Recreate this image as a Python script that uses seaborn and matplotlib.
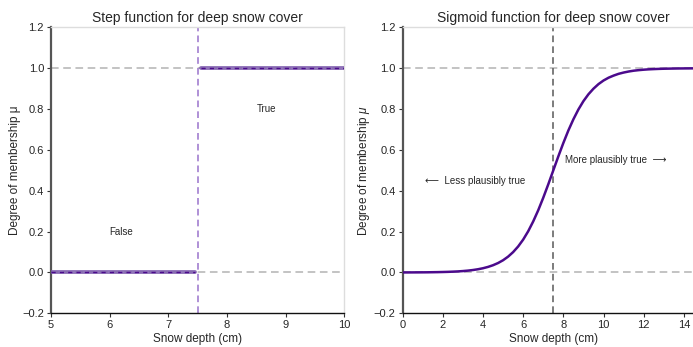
import numpy as np
import pandas as pd
import seaborn as sns
import matplotlib
matplotlib.use("Agg")
import matplotlib.pyplot as plt

# ---- data ----
step_x_false = [5.0, 7.45]
step_y_false = [0.0, 0.0]
step_x_true = [7.55, 10.0]
step_y_true = [1.0, 1.0]
threshold = 7.5

sig_x = [0.0, 0.25, 0.5, 0.75, 1.0, 1.25, 1.5, 1.75, 2.0, 2.25, 2.5, 2.75, 3.0, 3.25,
         3.5, 3.75, 4.0, 4.25, 4.5, 4.75, 5.0, 5.25, 5.5, 5.75, 6.0, 6.25, 6.5, 6.75,
         7.0, 7.25, 7.5, 7.75, 8.0, 8.25, 8.5, 8.75, 9.0, 9.25, 9.5, 9.75, 10.0,
         10.25, 10.5, 10.75, 11.0, 11.25, 11.5, 11.75, 12.0, 12.25, 12.5, 12.75,
         13.0, 13.25, 13.5, 13.75, 14.0, 14.25, 14.5, 14.75, 15.0]
sig_y = [0.0003, 0.0003, 0.0005, 0.0006, 0.0008, 0.0010, 0.0014, 0.0018, 0.0024,
         0.0031, 0.0041, 0.0053, 0.0070, 0.0092, 0.0121, 0.0159, 0.0208, 0.0273,
         0.0356, 0.0463, 0.0600, 0.0776, 0.0998, 0.1273, 0.1610, 0.2018, 0.2500,
         0.3047, 0.3660, 0.4317, 0.5000, 0.5683, 0.6340, 0.6953, 0.7500, 0.7982,
         0.8390, 0.8727, 0.9000, 0.9224, 0.9400, 0.9537, 0.9640, 0.9727, 0.9790,
         0.9841, 0.9880, 0.9908, 0.9930, 0.9947, 0.9959, 0.9969, 0.9977, 0.9982,
         0.9986, 0.9990, 0.9992, 0.9994, 0.9996, 0.9997, 0.9997]

yticks = [-0.2, 0.0, 0.2, 0.4, 0.6, 0.8, 1.0, 1.2]
left_xticks = [5, 6, 7, 8, 9, 10]
right_xticks = [0, 2, 4, 6, 8, 10, 12, 14]

sns.set_theme(style="white")
plt.rcParams['font.family'] = ['Liberation Sans', 'DejaVu Sans']
plt.rcParams['axes.unicode_minus'] = True
plt.rcParams['mathtext.fontset'] = 'custom'
plt.rcParams['mathtext.it'] = 'Liberation Sans:italic'
plt.rcParams['mathtext.rm'] = 'Liberation Sans'

fig = plt.figure(figsize=(6.93, 3.47), dpi=100)
ax1 = fig.add_axes([0.0736, 0.097, 0.4232, 0.824])
ax2 = fig.add_axes([0.581, 0.097, 0.4348, 0.824])

INDIGO = "#4b0a8c"
LIGHTP = "#7d5cad"

def style(ax):
    for s in ["top", "right"]:
        ax.spines[s].set_color("#dddddd")
        ax.spines[s].set_linewidth(1.0)
    ax.spines["left"].set_color("#555555")
    ax.spines["left"].set_linewidth(1.6)
    ax.spines["bottom"].set_color("#111111")
    ax.spines["bottom"].set_linewidth(1.0)
    ax.tick_params(axis="both", direction="out", length=3, width=0.8,
                   labelsize=8, color="#333333", pad=2, bottom=True, left=True)
    ax.set_ylim(-0.2, 1.2)
    ax.set_yticks(yticks)
    ax.set_yticklabels([f"{v:.1f}".replace("-", "\u2212") for v in yticks])
    for yv in [0.0, 1.0]:
        ax.axhline(yv, color="#b3b3b3", ls=(0, (5, 3)), lw=1.1, zorder=1)

# ---- left: step ----
style(ax1)
df_f = pd.DataFrame({"x": step_x_false, "y": step_y_false})
df_t = pd.DataFrame({"x": step_x_true, "y": step_y_true})
for d in (df_f, df_t):
    sns.lineplot(data=d, x="x", y="y", ax=ax1, color=LIGHTP, lw=2.8, alpha=0.85, zorder=3)
    sns.lineplot(data=d, x="x", y="y", ax=ax1, color=INDIGO, lw=1.0, ls=(0, (3, 3)), zorder=4)
ax1.axvline(threshold, color="#a27ed0", ls=(0, (4, 2.5)), lw=1.2, zorder=2)
ax1.set_xlim(5, 10)
ax1.set_xticks(left_xticks)
ax1.set_xticklabels([str(v) for v in left_xticks])
ax1.text(6.0, 0.2, "False", fontsize=7, ha="left", va="center")
ax1.text(8.5, 0.8, "True", fontsize=7, ha="left", va="center")
ax1.set_title("Step function for deep snow cover", fontsize=10, pad=4)
ax1.set_xlabel("Snow depth (cm)", fontsize=8.5, labelpad=2)
ax1.set_ylabel("Degree of membership \u03bc", fontsize=8.5, labelpad=1)

# ---- right: sigmoid ----
style(ax2)
df_s = pd.DataFrame({"x": sig_x, "y": sig_y})
sns.lineplot(data=df_s, x="x", y="y", ax=ax2, color=INDIGO, lw=1.8, zorder=3)
ax2.axvline(threshold, color="#666666", ls=(0, (4, 2.5)), lw=1.2, zorder=2)
ax2.set_xlim(0, 15)
ax2.set_xticks(right_xticks)
ax2.set_xticklabels([str(v) for v in right_xticks])
ax2.text(1.1, 0.45, "\u27f5  Less plausibly true", fontsize=7, ha="left", va="center")
ax2.text(8.1, 0.55, "More plausibly true  \u27f6", fontsize=7, ha="left", va="center")
ax2.set_title("Sigmoid function for deep snow cover", fontsize=10, pad=4)
ax2.set_xlabel("Snow depth (cm)", fontsize=8.5, labelpad=2)
ax2.set_ylabel("Degree of membership $\\mu$", fontsize=8.5, labelpad=1)

fig.savefig("out.png", dpi=100)
